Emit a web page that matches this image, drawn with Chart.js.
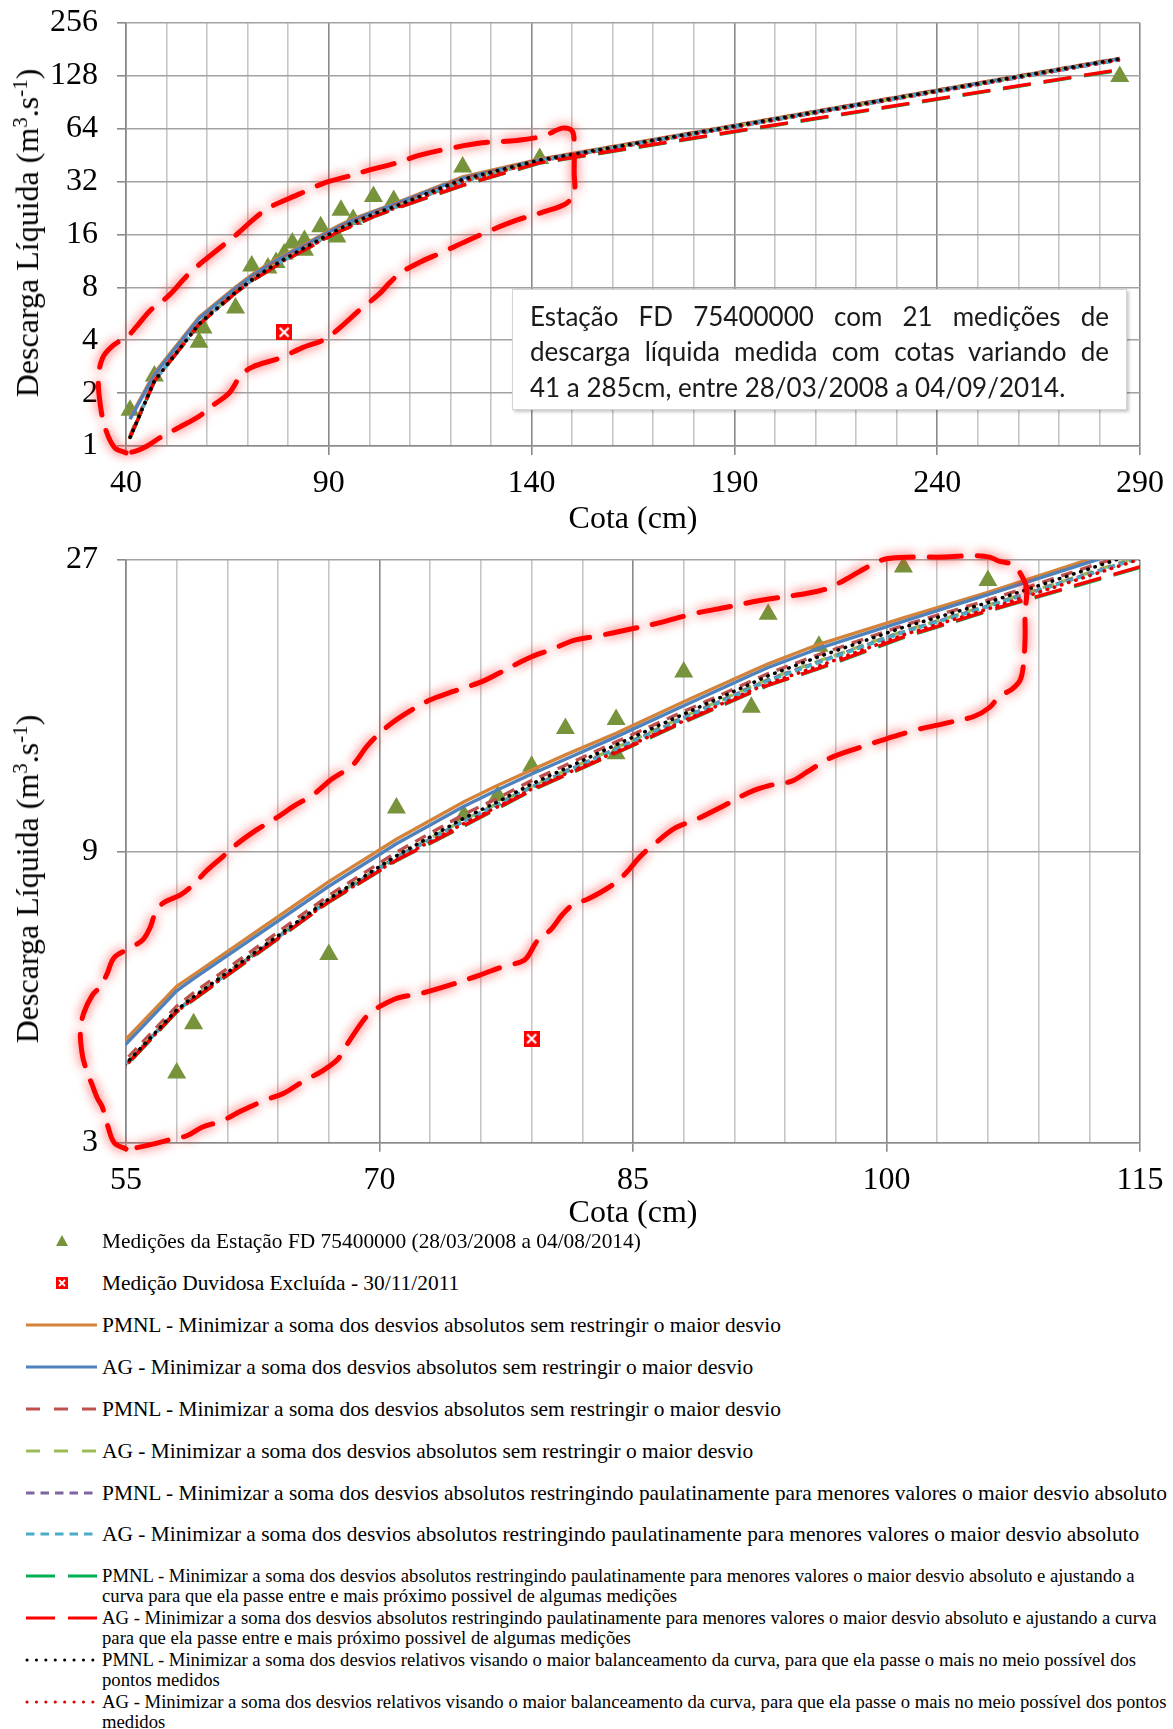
<!DOCTYPE html>
<html lang="pt-BR">
<head>
<meta charset="utf-8">
<title>Curva-chave - Estação FD 75400000</title>
<script src="https://cdn.jsdelivr.net/npm/chart.js@4.4.1/dist/chart.umd.min.js"></script>
<style>
  html, body { margin: 0; padding: 0; background: #fff; }
  body { width: 1173px; height: 1729px; position: relative; overflow: hidden;
         font-family: "Liberation Serif", "Times New Roman", serif; color: #000; }
  canvas { position: absolute; left: 0; }
  #graf1 { top: 0; }
  #graf2 { top: 530px; }
  .ytit { position: absolute; font-size: 32px; white-space: nowrap; line-height: 1;
          transform: translate(-50%, -50%) rotate(-90deg); }
  .ytit sup { font-size: 21px; vertical-align: 11px; line-height: 0; }
  .caixa { position: absolute; left: 512px; top: 289px; width: 615px; height: 121px;
           box-sizing: border-box; background: #fff; border: 1.5px solid #d4d4d4;
           box-shadow: 2px 2px 3px rgba(0,0,0,0.22); padding: 9px 17px 0 17px;
           font-family: Lato, "Open Sans", sans-serif; font-size: 26px; line-height: 35.3px; color: #1a1a1a; }
  .caixa .just { text-align: justify; text-align-last: justify; white-space: nowrap; }
  .item { position: absolute; left: 0; width: 1173px; }
  .item svg { position: absolute; left: 0; top: 0; }
  .item span { position: absolute; left: 102px; white-space: nowrap; }
</style>
</head>
<body>
<canvas id="graf1" width="1173" height="540"></canvas>
<canvas id="graf2" width="1173" height="700"></canvas>
<div class="ytit" style="left:27px; top:233px;">Descarga Líquida (m<sup>3</sup>.s<sup>-1</sup>)</div>
<div class="ytit" style="left:27px; top:879px;">Descarga Líquida (m<sup>3</sup>.s<sup>-1</sup>)</div>
<div class="caixa">
  <div class="just">Estação FD 75400000 com 21 medições de</div>
  <div class="just">descarga líquida medida com cotas variando de</div>
  <div>41 a 285cm, entre 28/03/2008 a 04/09/2014.</div>
</div>
<div id="legenda"></div>
<script>
// medições (cota em cm, descarga em m3/s)
var cotaMedida  = [41, 47, 58, 59, 67, 71, 75, 77, 79, 81, 84, 84, 88, 92, 93, 96, 101, 106, 123, 142, 285];
var vazaoMedida = [1.6, 2.5, 3.9, 4.7, 6.1, 10.6, 10.3, 11.1, 12.4, 14.3, 14.8, 13.0, 17.7, 15.5, 22.0, 19.5, 26.3, 25.0, 38.8, 43.4, 127];

// medição duvidosa excluída
var cotaDuvidosa  = [79];
var vazaoDuvidosa = [4.44];

// curvas-chave calculadas nas cotas medidas
var cotaCurva = [41, 47, 58, 59, 67, 71, 75, 77, 79, 81, 84, 88, 92, 93, 96, 101, 106, 123, 142, 285];
var pmnlAbs     = [1.45, 2.60, 5.41, 5.65, 8.03, 9.42, 10.85, 11.55, 12.23, 12.95, 14.05, 15.82, 17.75, 18.25, 19.65, 21.7, 23.9, 34.0, 43.0, 161];
var agAbs       = [1.42, 2.55, 5.32, 5.57, 7.89, 9.26, 10.67, 11.35, 12.05, 12.74, 13.86, 15.58, 17.5, 18.0, 19.35, 21.43, 23.7, 33.5, 42.5, 160];
var pmnlAbsTr   = [1.15, 2.40, 5.02, 5.28, 7.62, 8.97, 10.35, 11.0, 11.75, 12.45, 13.6, 15.25, 17.1, 17.6, 18.9, 21.1, 23.2, 33.2, 42.7, 161];
var agAbsTr     = [1.13, 2.36, 4.95, 5.2, 7.5, 8.82, 10.14, 10.78, 11.5, 12.2, 13.3, 14.95, 16.75, 17.22, 18.45, 20.65, 22.75, 32.3, 42.2, 159];
var pmnlRestr   = [1.12, 2.35, 4.94, 5.18, 7.48, 8.8, 10.1, 10.75, 11.47, 12.16, 13.25, 14.9, 16.7, 17.17, 18.4, 20.6, 22.7, 32.1, 42.0, 158];
var agRestr     = [1.12, 2.35, 4.93, 5.17, 7.47, 8.78, 10.08, 10.72, 11.45, 12.13, 13.22, 14.85, 16.65, 17.12, 18.35, 20.55, 22.65, 32.0, 42.0, 158];
var pmnlAjuste  = [1.11, 2.33, 4.91, 5.14, 7.43, 8.69, 9.9, 10.58, 11.32, 11.98, 13.03, 14.64, 16.37, 16.82, 17.92, 20.15, 22.25, 30.4, 40.8, 138];
var agAjuste    = [1.12, 2.34, 4.92, 5.15, 7.44, 8.70, 9.92, 10.6, 11.34, 12.0, 13.05, 14.67, 16.4, 16.85, 17.95, 20.2, 22.3, 30.5, 41.0, 139];
var pmnlRel     = [1.12, 2.35, 4.95, 5.2, 7.52, 8.85, 10.2, 10.85, 11.6, 12.3, 13.45, 15.1, 16.95, 17.45, 18.75, 20.95, 23.0, 33.0, 42.5, 160];
var agRel       = [1.12, 2.33, 4.92, 5.16, 7.45, 8.72, 10.0, 10.65, 11.38, 12.05, 13.1, 14.72, 16.5, 16.95, 18.1, 20.35, 22.45, 32.0, 41.8, 158];

// contornos destacados (à mão) em cada gráfico
var contornoX1 = [40.0, 37.2, 34.8, 33.6, 33.2, 34.2, 36.7, 40.5, 42.8, 46.1, 50.4, 55.1, 58.9, 63.1, 67.4, 71.2, 74.9, 79.6, 84.4, 89.1, 93.8, 99.5, 106.1, 112.7, 120.3, 127.8, 136.3, 142.9, 147.6, 150.0, 150.5, 150.5, 150.5, 148.6, 142.9, 136.3, 129.7, 124.0, 117.4, 112.7, 108.0, 105.1, 102.3, 97.6, 92.9, 89.1, 83.4, 77.8, 71.2, 68.3, 65.5, 61.7, 57.9, 53.2, 48.5, 45.2, 42.4, 40.0];
var contornoY1 = [0.914, 0.978, 1.28, 1.76, 2.41, 3.16, 3.71, 4.24, 4.85, 5.95, 7.13, 9.35, 11.2, 13.4, 16.1, 19.3, 22.5, 25.3, 28.3, 31.6, 33.8, 37.0, 40.5, 45.4, 49.7, 53.2, 54.9, 58.2, 64.5, 62.2, 52.0, 36.2, 27.6, 24.1, 21.5, 19.3, 16.8, 14.7, 12.5, 11.2, 9.77, 8.54, 7.29, 5.95, 4.75, 4.06, 3.62, 3.16, 2.82, 2.52, 2.01, 1.72, 1.47, 1.28, 1.12, 1.0, 0.934, 0.914];
var contornoX2 = [55.0, 54.3, 53.9, 53.6, 53.3, 53.0, 52.6, 52.4, 52.3, 52.5, 53.0, 53.5, 53.9, 54.3, 55.2, 56.0, 56.4, 56.8, 57.3, 58.2, 58.9, 59.8, 60.7, 61.6, 62.7, 63.8, 65.0, 66.1, 67.2, 68.4, 69.3, 70.4, 71.5, 72.9, 74.3, 75.9, 77.0, 78.8, 80.2, 81.5, 82.9, 84.8, 86.6, 88.6, 90.6, 92.6, 94.9, 96.4, 97.5, 98.9, 100.0, 101.6, 103.4, 105.2, 106.1, 106.7, 107.5, 108.0, 108.3, 108.2, 108.2, 108.1, 107.9, 107.4, 106.7, 106.1, 105.2, 103.6, 101.8, 100.0, 98.4, 96.6, 95.3, 94.4, 93.1, 91.9, 90.4, 88.8, 87.5, 86.3, 85.4, 84.6, 83.7, 82.3, 81.5, 80.8, 80.2, 79.3, 78.6, 77.4, 75.9, 74.3, 72.5, 71.1, 70.0, 69.3, 68.6, 68.0, 67.5, 66.6, 65.4, 64.3, 63.2, 61.8, 60.7, 59.5, 58.6, 57.5, 56.4, 55.5, 55.0];
var contornoY2 = [2.93, 3.0, 3.21, 3.43, 3.55, 3.73, 3.99, 4.2, 4.57, 4.89, 5.23, 5.41, 5.69, 6.03, 6.24, 6.45, 6.73, 7.2, 7.44, 7.63, 7.9, 8.38, 8.81, 9.27, 9.75, 10.17, 10.7, 11.16, 11.83, 12.45, 13.42, 14.36, 15.1, 15.89, 16.43, 17.0, 17.58, 18.64, 19.28, 19.94, 20.27, 20.79, 21.32, 22.05, 22.61, 23.2, 23.71, 24.19, 25.02, 26.32, 27.13, 27.3, 27.3, 27.45, 27.3, 26.85, 26.53, 25.44, 24.19, 22.24, 20.11, 18.17, 17.15, 16.57, 16.16, 15.49, 14.98, 14.61, 14.24, 13.76, 13.31, 12.77, 12.14, 11.73, 11.54, 11.25, 10.7, 10.17, 9.83, 9.27, 8.81, 8.3, 7.9, 7.51, 7.38, 7.08, 6.73, 6.4, 5.98, 5.84, 5.64, 5.45, 5.27, 5.18, 5.01, 4.85, 4.57, 4.31, 4.1, 3.93, 3.77, 3.61, 3.52, 3.38, 3.26, 3.18, 3.08, 3.03, 2.975, 2.94, 2.93];

// eixos
var ticksY1 = [1, 2, 4, 8, 16, 32, 64, 128, 256];
var ticksY2 = [3, 9, 27];
var rotuloX = 'Cota (cm)';

var rotulos = [
  'Medições da Estação FD 75400000 (28/03/2008 a 04/08/2014)',
  'Medição Duvidosa Excluída - 30/11/2011',
  'PMNL - Minimizar a soma dos desvios absolutos sem restringir o maior desvio',
  'AG - Minimizar a soma dos desvios absolutos sem restringir o maior desvio',
  'PMNL - Minimizar a soma dos desvios absolutos sem restringir o maior desvio',
  'AG - Minimizar a soma dos desvios absolutos sem restringir o maior desvio',
  'PMNL - Minimizar a soma dos desvios absolutos restringindo paulatinamente para menores valores o maior desvio absoluto',
  'AG - Minimizar a soma dos desvios absolutos restringindo paulatinamente para menores valores o maior desvio absoluto',
  ['PMNL - Minimizar a soma dos desvios absolutos restringindo paulatinamente para menores valores o maior desvio absoluto e ajustando a',
   'curva para que ela passe entre e mais próximo possivel de algumas medições'],
  ['AG - Minimizar a soma dos desvios absolutos restringindo paulatinamente para menores valores o maior desvio absoluto e ajustando a curva',
   'para que ela passe entre e mais próximo possivel de algumas medições'],
  ['PMNL - Minimizar a soma dos desvios relativos visando o maior balanceamento da curva, para que ela passe o mais no meio possível dos',
   'pontos medidos'],
  ['AG - Minimizar a soma dos desvios relativos visando o maior balanceamento da curva, para que ela passe o mais no meio possível dos pontos',
   'medidos']
];

var serif = '"Liberation Serif", "Times New Roman", serif';

// estilos das curvas: [valores, cor, tracejado chart, tracejado legenda, ordem]
var estilos = [
  [pmnlAbs,    '#d4833a', [],        null,      13],
  [agAbs,      '#4f81bd', [],        null,      12],
  [pmnlAbsTr,  '#c0504d', [12, 8],   '14 14',   11],
  [agAbsTr,    '#9bbb59', [12, 8],   '14 14',   10],
  [pmnlRestr,  '#8064a2', [7, 4],    '8.5 6',   9],
  [agRestr,    '#4bacc6', [7, 4],    '8.5 6',   8],
  [pmnlAjuste, '#00b050', [28, 13],  '29 13',   7],
  [agAjuste,   '#ff0000', [28, 13],  '29 13',   6],
  [pmnlRel,    '#000000', [0.5, 7],  '0.1 9.3', 4],
  [agRel,      '#e00000', [0.5, 7],  '0.1 9.3', 5]
];

// marcador da medição duvidosa
var marcaX = document.createElement('canvas');
marcaX.width = 16; marcaX.height = 16;
var mc = marcaX.getContext('2d');
mc.fillStyle = '#ff0000';
mc.fillRect(0, 0, 16, 16);
mc.strokeStyle = '#fff';
mc.lineWidth = 2.2;
mc.beginPath();
mc.moveTo(3.5, 3.5); mc.lineTo(12.5, 12.5);
mc.moveTo(12.5, 3.5); mc.lineTo(3.5, 12.5);
mc.stroke();

function pares(xs, ys) {
  return xs.map(function (x, i) { return { x: x, y: ys[i] }; });
}

function conjuntos(cx, cy) {
  var ds = [];
  ds.push({
    label: rotulos[0], data: pares(cotaMedida, vazaoMedida), showLine: false,
    pointStyle: 'triangle', pointRadius: 11, pointBackgroundColor: '#77933c',
    pointBorderWidth: 0, order: 20, clip: 12
  });
  ds.push({
    label: rotulos[1], data: pares(cotaDuvidosa, vazaoDuvidosa), showLine: false,
    pointStyle: marcaX, pointRadius: 8, order: 2, clip: 12
  });
  estilos.forEach(function (e, i) {
    var ponto = e[2].length && e[2][0] < 1;
    ds.push({
      label: Array.isArray(rotulos[i + 2]) ? rotulos[i + 2].join(' ') : rotulos[i + 2],
      data: pares(cotaCurva, e[0]), borderColor: e[1], borderDash: e[2],
      borderWidth: ponto ? 3.5 : 3.4,
      borderCapStyle: ponto ? 'round' : 'butt',
      pointRadius: 0, tension: 0, fill: false, order: e[4]
    });
  });
  ds.push({
    label: 'contorno', data: pares(cx, cy), borderColor: '#ff0000', borderWidth: 5,
    borderDash: [32, 16], borderCapStyle: 'round', pointRadius: 0, tension: 0.35,
    fill: false, clip: false, order: 0, brilho: true
  });
  return ds;
}

// brilho vermelho em volta do contorno
var brilho = {
  id: 'brilho',
  beforeDatasetDraw: function (chart, args) {
    if (!chart.data.datasets[args.index].brilho) return;
    chart.ctx.save();
    chart.ctx.shadowColor = 'rgba(255, 30, 30, 0.85)';
    chart.ctx.shadowBlur = 11;
  },
  afterDatasetDraw: function (chart, args) {
    if (chart.data.datasets[args.index].brilho) chart.ctx.restore();
  }
};

function opcoes(xMin, xMax, passo, passoRot, ticksY, alturaX, padTopo, padTitulo, padTick) {
  var principal = function (v) {
    var k = (v - xMin) / passoRot;
    return Math.abs(k - Math.round(k)) < 1e-6;
  };
  return {
    responsive: false, animation: false, devicePixelRatio: 1, events: [],
    layout: { padding: { top: padTopo, right: 33, left: 0, bottom: 0 } },
    plugins: { legend: { display: false }, tooltip: { enabled: false } },
    scales: {
      x: {
        type: 'linear', min: xMin, max: xMax,
        afterFit: function (s) { s.height = alturaX; s.paddingLeft = 0; s.paddingRight = 0; },
        ticks: {
          stepSize: passo, autoSkip: false, maxRotation: 0, padding: padTick, color: '#000',
          font: { family: serif, size: 32 },
          callback: function (v) { return principal(v) ? String(v) : ''; }
        },
        grid: {
          color: function (c) { return principal(c.tick.value) ? '#8a8a8a' : '#c6c6c6'; },
          lineWidth: 1.6, tickLength: 9,
          tickColor: function (c) { return principal(c.tick.value) ? '#8a8a8a' : 'rgba(0,0,0,0)'; }
        },
        border: { color: '#8a8a8a', width: 1.6 },
        title: {
          display: true, text: rotuloX, color: '#000',
          font: { family: serif, size: 32, lineHeight: 1 },
          padding: { top: 0, bottom: padTitulo }
        }
      },
      y: {
        type: 'logarithmic', min: ticksY[0], max: ticksY[ticksY.length - 1],
        afterFit: function (s) { s.width = 126; s.paddingTop = 0; s.paddingBottom = 0; },
        afterBuildTicks: function (s) { s.ticks = ticksY.map(function (v) { return { value: v }; }); },
        ticks: {
          padding: 19, color: '#000', font: { family: serif, size: 32 },
          callback: function (v) { return String(v); }
        },
        grid: { color: '#a2a2a2', lineWidth: 1.6, tickLength: 9, tickColor: '#8a8a8a' },
        border: { color: '#8a8a8a', width: 1.6 }
      }
    }
  };
}

new Chart(document.getElementById('graf1'), {
  type: 'line',
  data: { datasets: conjuntos(contornoX1, contornoY1) },
  options: opcoes(40, 290, 10, 50, ticksY1, 94, 23, 4, 9),
  plugins: [brilho]
});

new Chart(document.getElementById('graf2'), {
  type: 'line',
  data: { datasets: conjuntos(contornoX2, contornoY2) },
  options: opcoes(55, 115, 3, 15, ticksY2, 87.3, 30, 0.5, 10),
  plugins: [brilho]
});

// legenda em HTML
var topos = [1241, 1283, 1325, 1367, 1409, 1451, 1493, 1534, 1576, 1618, 1660, 1702];
var leg = document.getElementById('legenda');
rotulos.forEach(function (r, i) {
  var item = document.createElement('div');
  item.className = 'item';
  var duas = Array.isArray(r);
  var fs = duas ? 18.7 : 21.4;
  var lh = duas ? 20 : 24;
  item.style.top = (topos[i] - lh / 2) + 'px';
  var simb = '';
  var cy = lh / 2;
  if (i === 0) {
    simb = '<polygon points="56,' + (cy + 5) + ' 68,' + (cy + 5) + ' 62,' + (cy - 6) + '" fill="#77933c"/>';
  } else if (i === 1) {
    simb = '<rect x="56" y="' + (cy - 6) + '" width="12" height="12" fill="#ff0000"/>' +
      '<path d="M59 ' + (cy - 3) + ' L65 ' + (cy + 3) + ' M65 ' + (cy - 3) + ' L59 ' + (cy + 3) + '" stroke="#fff" stroke-width="1.8"/>';
  } else {
    var e = estilos[i - 2];
    var dot = e[3] === '0.1 9.3';
    simb = '<line x1="' + (dot ? 27 : 26) + '" y1="' + cy + '" x2="97" y2="' + cy + '" stroke="' + e[1] +
      '" stroke-width="3"' + (e[3] ? ' stroke-dasharray="' + e[3] + '"' : '') +
      (dot ? ' stroke-linecap="round"' : '') + '/>';
  }
  item.innerHTML = '<svg width="110" height="' + lh + '">' + simb + '</svg>' +
    '<span style="font-size:' + fs + 'px; line-height:' + lh + 'px; top:0">' +
    (duas ? r.join('<br>') : r) + '</span>';
  leg.appendChild(item);
});
</script>
</body>
</html>
